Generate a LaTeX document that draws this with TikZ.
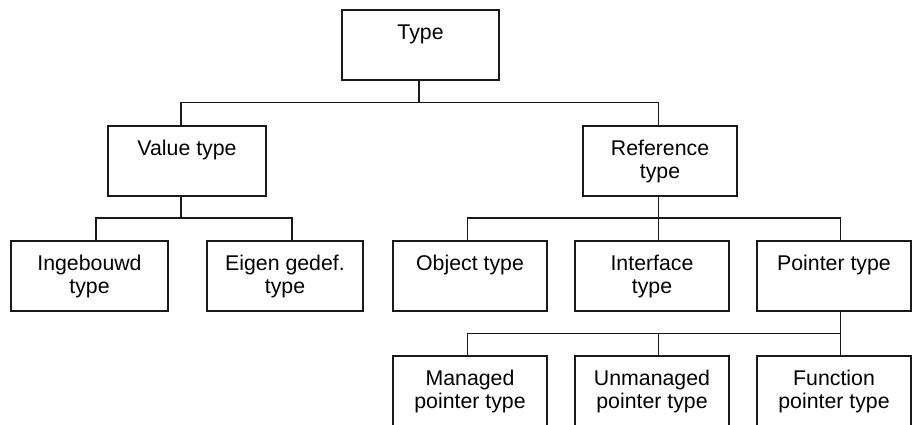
\documentclass[tikz,border=0pt]{standalone}
\usepackage{fontspec}
\setmainfont{Liberation Sans}
\newcommand\bx[1]{\parbox[c][70pt][t]{150pt}{\centering\rule{0pt}{29pt}#1}}
\tikzset{
  box/.style={draw=black!90, line width=1.3pt, inner sep=0pt, minimum width=154pt,
    font=\fontsize{21.3}{23.8}\selectfont},
  conn/.style={draw=black!90, line width=1.3pt}
}
\begin{document}
\begin{tikzpicture}[x=1pt,y=-1pt]
\useasboundingbox (0,0) rectangle (917,424);
\clip (0,0) rectangle (917,424);
\fill[white] (0,0) rectangle (917,424);
\coordinate (j1) at (0,102.7);
\coordinate (j2) at (0,218);
\coordinate (j3) at (0,333.7);

\node[box, minimum width=157pt] (type) at (420.5,45) {\bx{Type}};
\node[box, minimum width=158pt] (value) at (187,161) {\bx{Value type}};
\node[box] (ref) at (660,161) {\bx{Reference\\type}};
\node[box, minimum width=157pt] (ing) at (89.5,276) {\bx{Ingebouwd\\type}};
\node[box, minimum width=156pt] (eig) at (285,276) {\bx{Eigen gedef.\\type}};
\node[box] (obj) at (470,276) {\bx{Object type}};
\node[box] (int) at (652,276) {\bx{Interface\\type}};
\node[box] (ptr) at (834,276) {\bx{Pointer type}};
\node[box] (man) at (470,391) {\bx{Managed\\pointer type}};
\node[box] (unm) at (652,391) {\bx{Unmanaged\\pointer type}};
\node[box] (fun) at (834,391) {\bx{Function\\pointer type}};

% level 1
\coordinate (ts) at ([xshift=-1.5pt]type.south);
\coordinate (vn) at ([xshift=-6pt]value.north);
\coordinate (rn) at ([xshift=-1.3pt]ref.north);
\draw[conn] (ts) -- (ts |- j1);
\draw[conn] (vn) -- (vn |- j1) -- (rn |- j1) -- (rn);

% level 2 left
\coordinate (vs) at ([xshift=-6pt]value.south);
\coordinate (in) at ([xshift=6.5pt]ing.north);
\coordinate (en) at ([xshift=7pt]eig.north);
\draw[conn] (vs) -- (vs |- j2);
\draw[conn] (in) -- (in |- j2) -- (en |- j2) -- (en);

% level 2 right
\coordinate (rs) at ([xshift=-1.3pt]ref.south);
\coordinate (on) at ([xshift=-2.3pt]obj.north);
\coordinate (itn) at ([xshift=6.7pt]int.north);
\coordinate (pn) at ([xshift=6.7pt]ptr.north);
\draw[conn] (rs) -- (rs |- j2);
\draw[conn] (on) -- (on |- j2) -- (pn |- j2) -- (pn);
\draw[conn] (itn) -- (itn |- j2);

% level 3
\coordinate (ps) at ([xshift=6.7pt]ptr.south);
\coordinate (mn) at ([xshift=-2.3pt]man.north);
\coordinate (un) at ([xshift=6.7pt]unm.north);
\coordinate (fn) at ([xshift=6.7pt]fun.north);
\draw[conn] (ps) -- (ps |- j3);
\draw[conn] (mn) -- (mn |- j3) -- (fn |- j3) -- (fn);
\draw[conn] (un) -- (un |- j3);
\end{tikzpicture}
\end{document}
